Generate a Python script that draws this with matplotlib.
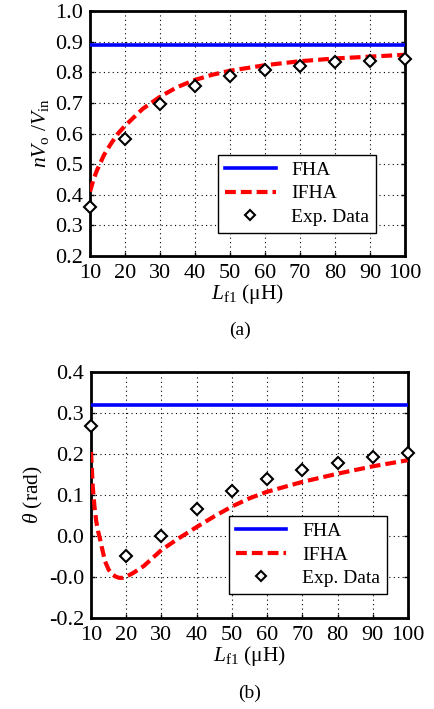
import matplotlib
matplotlib.use('Agg')
import matplotlib.pyplot as plt

plt.rcParams['font.family'] = ['Liberation Serif', 'DejaVu Serif']
plt.rcParams['mathtext.fontset'] = 'custom'
plt.rcParams['mathtext.rm'] = 'Liberation Serif'
plt.rcParams['mathtext.it'] = 'Liberation Serif:italic'

# inductance sweep (uH)
L_exp = [10, 20, 30, 40, 50, 60, 70, 80, 90, 100]

# (a) normalised voltage gain
gain_fha = 0.89
gain_exp = [0.36, 0.582, 0.695, 0.754, 0.789, 0.807, 0.821, 0.832, 0.837, 0.843]
L_ifha_a = [10, 11, 12, 13, 14, 16, 18, 20, 25, 30, 35, 40, 45, 50, 60, 70, 80, 90, 100]
gain_ifha = [0.41, 0.45, 0.48, 0.505, 0.53, 0.567, 0.60, 0.625, 0.68, 0.72, 0.752,
             0.775, 0.792, 0.805, 0.823, 0.836, 0.845, 0.851, 0.857]

# (b) phase angle
theta_fha = 0.32
theta_exp = [0.268, -0.049, 0.0, 0.065, 0.110, 0.139, 0.161, 0.179, 0.193, 0.203]
L_ifha_b = [10, 10.5, 11, 11.5, 12, 12.5, 13, 14, 15, 16, 17, 18, 19, 20, 22, 25,
            30, 35, 40, 45, 50, 55, 60, 70, 80, 90, 100]
theta_ifha = [0.205, 0.12, 0.07, 0.035, 0.012, -0.005, -0.025, -0.062, -0.082, -0.093,
              -0.099, -0.102, -0.102, -0.099, -0.09, -0.073, -0.034, -0.005, 0.022,
              0.048, 0.072, 0.092, 0.108, 0.132, 0.152, 0.17, 0.185]

x_ticks = [10, 20, 30, 40, 50, 60, 70, 80, 90, 100]
yticks_a = [0.2, 0.3, 0.4, 0.5, 0.6, 0.7, 0.8, 0.9, 1.0]
yticks_b = [-0.2, -0.1, 0.0, 0.1, 0.2, 0.3, 0.4]
ylabels_b = ['-0.2', '-0.0', '0.0', '0.1', '0.2', '0.3', '0.4']

fig = plt.figure(figsize=(4.34, 7.09), dpi=100)
ax1 = fig.add_axes([0.2074, 0.6389, 0.7258, 0.3456])
ax2 = fig.add_axes([0.2097, 0.1283, 0.7304, 0.347])


def style_axes(ax):
    ax.set_xlim(10, 100)
    ax.set_xticks(x_ticks)
    ax.grid(True, color='black', linestyle=(0, (1, 3)), linewidth=0.8)
    for s in ax.spines.values():
        s.set_linewidth(2)
    ax.tick_params(direction='in', length=3, width=1, labelsize=16, pad=5,
                   right=True, top=False)
    ax.tick_params(axis='x', pad=6)
    ax.set_xlabel(r'$L_{\mathrm{f1}}$ (μH)', fontsize=15.5, labelpad=-1)


def draw(ax, L_ifha, ifha, fha, exp, anchor):
    ax.axhline(fha, color='#0000ff', linewidth=2.6, label='FHA', zorder=3)
    ax.plot(L_ifha, ifha, color='#ff0000', linewidth=3, linestyle=(0, (2.6, 1.2)),
            label='IFHA', zorder=3)
    ax.plot(L_exp, exp, linestyle='none', marker='D', markersize=6,
            markerfacecolor='white', markeredgecolor='black', markeredgewidth=1.5,
            label='Exp. Data', zorder=4, clip_on=False)
    leg = ax.legend(loc='lower right', bbox_to_anchor=anchor, fontsize=14,
                    fancybox=False, framealpha=1, edgecolor='black',
                    handlelength=2.6, borderpad=0.35, labelspacing=0.3,
                    handletextpad=0.8, borderaxespad=0, markerscale=0.8)
    leg.get_frame().set_linewidth(1.0)


style_axes(ax1)
draw(ax1, L_ifha_a, gain_ifha, gain_fha, gain_exp, (0.908, 0.095))
ax1.set_ylim(0.2, 1.0)
ax1.set_yticks(yticks_a)
ax1.set_yticklabels([f'{v:.1f}' for v in yticks_a])
ax1.set_ylabel(r'$nV_{\mathrm{o}}\ /V_{\mathrm{in}}$', fontsize=15.5, labelpad=3)

style_axes(ax2)
draw(ax2, L_ifha_b, theta_ifha, theta_fha, theta_exp, (0.933, 0.098))
ax2.set_ylim(-0.2, 0.4)
ax2.set_yticks(yticks_b)
ax2.set_yticklabels(ylabels_b)
ax2.set_ylabel(r'$\theta$ (rad)', fontsize=15.5, labelpad=3)

fig.text(240 / 434, 1 - 330 / 709, '(a)', ha='center', va='center', fontsize=14)
fig.text(250 / 434, 1 - 693 / 709, '(b)', ha='center', va='center', fontsize=14)

fig.savefig('out.png', dpi=100)
